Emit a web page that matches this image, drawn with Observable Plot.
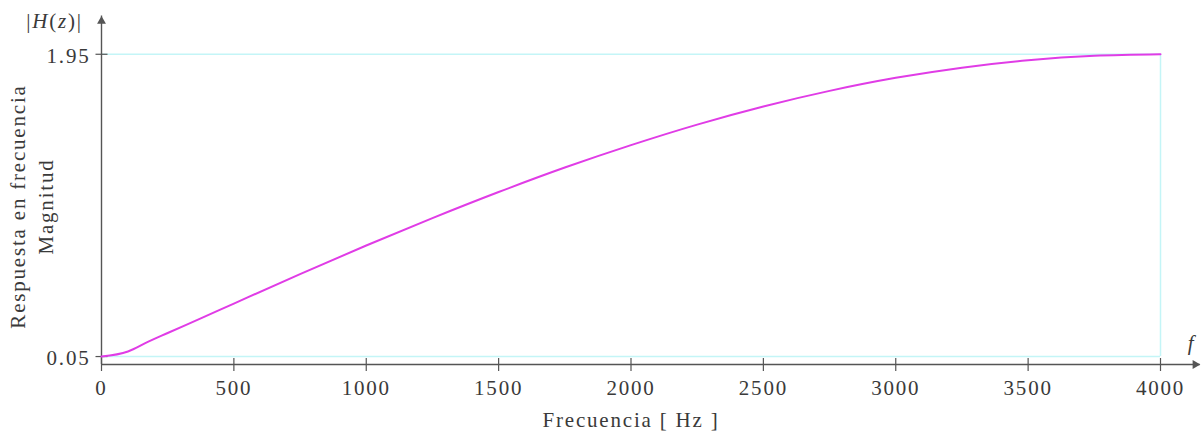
<!DOCTYPE html>
<html><head><meta charset="utf-8">
<script src="https://cdn.jsdelivr.net/npm/d3@7"></script>
<script src="https://cdn.jsdelivr.net/npm/@observablehq/plot@0.6"></script>
<style>
html,body{margin:0;padding:0;background:#fff;}
</style></head><body><div id="chart"></div>
<script>
// ---- data ----
const freq = [0, 100, 175, 250, 375, 500, 750, 1000, 1250, 1500, 1750, 2000, 2250, 2500, 2750, 3000, 3250, 3500, 3750, 4000];
const magnitude = [0.05, 0.082, 0.142, 0.198, 0.29, 0.383, 0.568, 0.748, 0.92, 1.084, 1.238, 1.379, 1.508, 1.622, 1.72, 1.802, 1.866, 1.912, 1.94, 1.95];
const xTicks = [0, 500, 1000, 1500, 2000, 2500, 3000, 3500, 4000];
const xTickLabels = ["0", "500", "1000", "1500", "2000", "2500", "3000", "3500", "4000"];
const yTicks = [0.05, 1.95];
const yTickLabels = ["0.05", "1.95"];
const xTitle = "Frecuencia [ Hz ]";
const yTitle1 = "Respuesta en frecuencia";
const yTitle2 = "Magnitud";
const yAxisName = "|H(z)|";
const xAxisName = "f";
const xEnd = 4000;            // end of plotted range
const xArrowTip = 4150;       // end of x axis arrow
const yArrowTip = 2.19;       // end of y axis arrow

// ---- styles ----
const magenta = "#e03ce6";
const cyan = "#c4f5f7";
const axisColor = "#555";
const textColor = "#3a3a3a";

const data = freq.map((f, i) => ({f, m: magnitude[i]}));
const tickSymbol = {draw(ctx, size) { const h = Math.sqrt(size / Math.PI); ctx.moveTo(0, -h); ctx.lineTo(0, h); }};
const centered = {textAnchor: "middle", lineAnchor: "middle", fill: textColor};

const chart = Plot.plot({
  width: 1204, height: 431,
  marginLeft: 101, marginRight: 44, marginTop: 14, marginBottom: 67,
  x: {domain: [0, xEnd], axis: null},
  y: {domain: [0, 2.2], axis: null},
  style: {fontFamily: "'Liberation Serif', 'Times New Roman', serif", fontSize: "21px", color: textColor, background: "#fff", letterSpacing: "1.8px"},
  marks: [
    // light cyan frame
    Plot.ruleY([yTicks[0], yTicks[1]], {y: d => d, x1: 0, x2: xEnd, stroke: cyan, strokeWidth: 1.5}),
    Plot.ruleX([xEnd], {x: d => d, y1: yTicks[0], y2: yTicks[1], stroke: cyan, strokeWidth: 1.5}),
    // axes lines
    Plot.ruleY([0], {y: d => d, x1: 0, x2: xArrowTip, stroke: axisColor, strokeWidth: 1.4}),
    Plot.ruleX([0], {x: d => d, y1: 0, y2: yArrowTip, stroke: axisColor, strokeWidth: 1.4}),
    Plot.dot([xArrowTip], {x: d => d, y: 0, symbol: "triangle", rotate: 90, r: 3.3, fill: axisColor, stroke: "none", dx: -5}),
    Plot.dot([yArrowTip], {x: 0, y: d => d, symbol: "triangle", r: 3.3, fill: axisColor, stroke: "none", dy: 5}),
    // ticks
    Plot.dot(xTicks, {x: d => d, y: 0, symbol: tickSymbol, r: 6.5, fill: "none", stroke: axisColor, strokeWidth: 1.2}),
    Plot.dot(yTicks, {x: 0, y: d => d, symbol: tickSymbol, rotate: 90, r: 6, fill: "none", stroke: axisColor, strokeWidth: 1.2}),
    // tick labels
    Plot.text(xTicks, {x: d => d, y: 0, text: (d, i) => xTickLabels[i], dy: 24, ...centered}),
    Plot.text(yTicks, {x: 0, y: d => d, text: (d, i) => yTickLabels[i], dx: -11, dy: 2, ...centered, textAnchor: "end"}),
    // curve
    Plot.line(data, {x: "f", y: "m", curve: "monotone-x", stroke: magenta, strokeWidth: 2}),
    // titles
    Plot.text([xTitle], {frameAnchor: "bottom", dy: 56, ...centered}),
    Plot.text([yTitle1], {frameAnchor: "left", rotate: -90, dx: -83, dy: 17, ...centered}),
    Plot.text([yTitle2], {frameAnchor: "left", rotate: -90, dx: -55, dy: 17, ...centered}),
    Plot.text([yAxisName], {frameAnchor: "top-left", dx: -47, dy: 7, ...centered}),
    Plot.text([xAxisName], {frameAnchor: "bottom-right", dx: 31, dy: -21, ...centered, fontStyle: "italic"})
  ]
});

d3.select(chart).selectAll("text").each(function () {
  if (this.textContent === yAxisName) {
    this.innerHTML = '|<tspan font-style="italic">H</tspan>(<tspan font-style="italic">z</tspan>)|';
  }
});

document.getElementById("chart").appendChild(chart);
</script>
</body></html>
